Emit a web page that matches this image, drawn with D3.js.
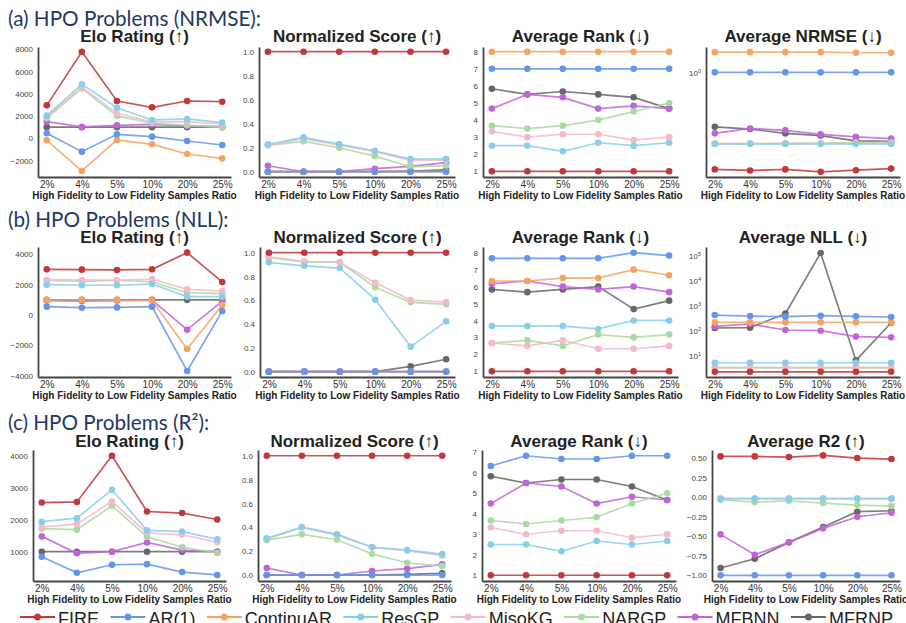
<!DOCTYPE html>
<html>
<head>
<meta charset="utf-8">
<script src="https://cdn.jsdelivr.net/npm/d3@7"></script>
<style>
  body { margin: 0; background: #fff; }
  svg { display: block; }
</style>
</head>
<body>
<div id="chart"></div>
<script>
const ratios = ["2%", "4%", "5%", "10%", "20%", "25%"];
const methods = ["FIRE", "AR(1)", "ContinuAR", "ResGP", "MisoKG", "NARGP", "MFBNN", "MFRNP"];

// one row per method, in the order of `methods`
const eloNrmse = [
  [2960, 7780, 3350, 2780, 3350, 3290],
  [450, -1200, 360, 150, -240, -600],
  [-180, -2930, -150, -540, -1410, -1800],
  [2040, 4850, 2750, 1650, 1740, 1410],
  [1890, 4580, 2250, 1470, 1500, 1290],
  [1800, 4490, 2010, 1350, 1170, 990],
  [1500, 1020, 1170, 1260, 1110, 1050],
  [1000, 1000, 1000, 1000, 1000, 1000]
];
const normNrmse = [
  [1, 1, 1, 1, 1, 1],
  [0, 0, 0, 0, 0, 0],
  [0, 0, 0, 0, 0, 0],
  [0.228, 0.286, 0.23, 0.175, 0.105, 0.108],
  [0.22, 0.275, 0.222, 0.168, 0.095, 0.098],
  [0.22, 0.253, 0.2, 0.13, 0.04, 0.05],
  [0.05, 0, 0, 0.025, 0.045, 0.075],
  [0, 0, 0, 0, 0.005, 0.015]
];
const rankNrmse = [
  [1, 1, 1, 1, 1, 1],
  [7, 7, 7, 7, 7, 7],
  [8, 8, 8, 8, 8, 8],
  [2.5, 2.5, 2.17, 2.67, 2.5, 2.67],
  [3.33, 3.0, 3.17, 3.17, 2.83, 3.0],
  [3.67, 3.5, 3.67, 4.0, 4.5, 5.0],
  [4.67, 5.5, 5.33, 4.67, 4.83, 4.67],
  [5.83, 5.5, 5.67, 5.5, 5.33, 4.67]
];
const avgNrmse = [
  [0.289, 0.285, 0.289, 0.28, 0.286, 0.292],
  [1.01, 1.01, 1.01, 1.01, 1.01, 1.01],
  [1.31, 1.31, 1.31, 1.31, 1.30, 1.30],
  [0.401, 0.401, 0.401, 0.401, 0.401, 0.401],
  [0.403, 0.403, 0.403, 0.403, 0.403, 0.403],
  [0.403, 0.403, 0.404, 0.406, 0.408, 0.41],
  [0.46, 0.49, 0.478, 0.454, 0.44, 0.43],
  [0.50, 0.486, 0.46, 0.447, 0.417, 0.415]
];

const eloNll = [
  [3010, 2990, 2970, 3010, 4110, 2180],
  [550, 480, 500, 550, -3690, 260],
  [990, 990, 990, 950, -2240, 660],
  [2000, 1960, 1960, 2040, 1210, 1210],
  [2310, 2310, 2290, 2370, 1690, 1580],
  [2290, 2220, 2290, 2180, 1470, 1410],
  [950, 920, 950, 990, -970, 920],
  [1000, 1000, 1000, 1000, 1000, 1000]
];
const normNll = [
  [1, 1, 1, 1, 1, 1],
  [0, 0, 0, 0, 0, 0],
  [0, 0, 0, 0, 0, 0],
  [0.919, 0.89, 0.871, 0.605, 0.21, 0.423],
  [0.966, 0.927, 0.92, 0.748, 0.602, 0.585],
  [0.96, 0.92, 0.92, 0.709, 0.583, 0.566],
  [0, 0, 0, 0, 0, 0],
  [0, 0, 0, 0, 0.045, 0.104]
];
const rankNll = [
  [1, 1, 1, 1, 1, 1],
  [7.67, 7.67, 7.67, 7.67, 8.0, 7.83],
  [6.33, 6.33, 6.5, 6.5, 7.0, 6.67],
  [3.67, 3.67, 3.67, 3.5, 4.0, 4.0],
  [2.67, 2.5, 2.83, 2.33, 2.33, 2.5],
  [2.67, 2.83, 2.5, 3.17, 3.0, 3.17],
  [6.17, 6.33, 6.0, 5.83, 6.0, 5.67],
  [5.83, 5.67, 5.83, 6.0, 4.67, 5.17]
];
const avgNll = [
  [2.4, 2.4, 2.4, 2.4, 2.4, 2.4],
  [432, 394, 371, 407, 383, 360],
  [221, 221, 221, 221, 221, 221],
  [5.5, 5.5, 5.5, 5.5, 5.5, 5.5],
  [3.5, 3.5, 3.5, 3.5, 3.5, 3.5],
  [3.5, 3.5, 3.5, 3.5, 3.5, 3.5],
  [153, 190, 110, 103, 60, 56],
  [132, 136, 489, 126000, 6.8, 214]
];

// ContinuAR has no R² results
const eloR2 = [
  [2540, 2560, 4010, 2260, 2210, 2010],
  [840, 340, 590, 610, 360, 270],
  null,
  [1940, 2050, 2940, 1670, 1630, 1390],
  [1770, 1870, 2570, 1590, 1530, 1300],
  [1720, 1690, 2440, 1470, 1140, 960],
  [1480, 950, 1000, 1290, 1050, 1000],
  [1000, 1000, 1000, 1000, 1000, 1000]
];
const normR2 = [
  [1, 1, 1, 1, 1, 1],
  [0, 0, 0, 0, 0, 0],
  null,
  [0.307, 0.402, 0.341, 0.235, 0.209, 0.176],
  [0.30, 0.40, 0.335, 0.232, 0.205, 0.162],
  [0.293, 0.341, 0.296, 0.176, 0.103, 0.075],
  [0.059, 0, 0, 0.034, 0.053, 0.089],
  [0, 0, 0, 0, 0.005, 0.015]
];
const rankR2 = [
  [1, 1, 1, 1, 1, 1],
  [6.33, 6.83, 6.67, 6.67, 6.83, 6.83],
  null,
  [2.5, 2.5, 2.17, 2.67, 2.5, 2.67],
  [3.33, 3.0, 3.17, 3.17, 2.83, 3.0],
  [3.67, 3.5, 3.67, 3.83, 4.5, 5.0],
  [4.5, 5.5, 5.33, 4.5, 4.83, 4.67],
  [5.83, 5.5, 5.67, 5.67, 5.33, 4.67]
];
const avgR2 = [
  [0.52, 0.52, 0.511, 0.533, 0.499, 0.486],
  [-1, -1, -1, -1, -1, -1],
  null,
  [-0.02, -0.02, -0.02, -0.02, -0.02, -0.02],
  [-0.02, -0.02, -0.02, -0.02, -0.02, -0.02],
  [-0.034, -0.064, -0.047, -0.077, -0.102, -0.115],
  [-0.477, -0.737, -0.579, -0.40, -0.251, -0.20],
  [-0.907, -0.788, -0.579, -0.383, -0.187, -0.175]
];

const colors = ["#c1373a", "#6495ed", "#f4a460", "#87ceeb", "#f4b8c8", "#a8dba0", "#c064d8", "#666666"];

const W = 906, H = 623;
const svg = d3.select("#chart").append("svg")
  .attr("width", W).attr("height", H);

const rows = [
  {label: "(a) HPO Problems (NRMSE):", top: 47, bottom: 177, labelY: 26, titleY: 42,
   cols: [[38, 231], [259, 455], [483, 678], [706, 900]]},
  {label: "(b) HPO Problems (NLL):", top: 247, bottom: 377, labelY: 227, titleY: 243,
   cols: [[38, 231], [260, 455], [483, 678], [706, 900]]},
  {label: "(c) HPO Problems (R²):", top: 450, bottom: 581, labelY: 430, titleY: 447,
   cols: [[33, 226], [258, 451], [482, 676], [712, 900]]}
];

const int = d3.format("d");
const one = d3.format(".1f");
const two = d3.format(".2f");

const panels = [
  {row: 0, col: 0, title: "Elo Rating (↑)", data: eloNrmse, domain: [-3477, 8203], ticks: d3.range(-2000, 8001, 2000), fmt: int},
  {row: 0, col: 1, title: "Normalized Score (↑)", data: normNrmse, domain: [-0.044, 1.039], ticks: d3.range(0, 1.01, 0.2), fmt: one},
  {row: 0, col: 2, title: "Average Rank (↓)", data: rankNrmse, domain: [0.667, 8.275], ticks: d3.range(1, 9), fmt: int},
  {row: 0, col: 3, title: "Average NRMSE (↓)", data: avgNrmse, domain: [0.262, 1.40], ticks: [1], log: true},
  {row: 1, col: 0, title: "Elo Rating (↑)", data: eloNll, domain: [-4087, 4483], ticks: d3.range(-4000, 4001, 2000), fmt: int},
  {row: 1, col: 1, title: "Normalized Score (↑)", data: normNll, domain: [-0.045, 1.048], ticks: d3.range(0, 1.01, 0.2), fmt: one},
  {row: 1, col: 2, title: "Average Rank (↓)", data: rankNll, domain: [0.664, 8.336], ticks: d3.range(1, 9), fmt: int},
  {row: 1, col: 3, title: "Average NLL (↓)", data: avgNll, domain: [1.49, 2.18e5], ticks: [10, 100, 1000, 1e4, 1e5], log: true},
  {row: 2, col: 0, title: "Elo Rating (↑)", data: eloR2, domain: [81, 4188], ticks: d3.range(1000, 4001, 1000), fmt: int},
  {row: 2, col: 1, title: "Normalized Score (↑)", data: normR2, domain: [-0.05, 1.048], ticks: d3.range(0, 1.01, 0.2), fmt: one},
  {row: 2, col: 2, title: "Average Rank (↓)", data: rankR2, domain: [0.72, 7.11], ticks: d3.range(1, 8), fmt: int},
  {row: 2, col: 3, title: "Average R2 (↑)", data: avgR2, domain: [-1.073, 0.602], ticks: d3.range(-1, 0.51, 0.25), fmt: two}
];

// section headings
rows.forEach(r => {
  svg.append("text")
    .attr("x", 8).attr("y", r.labelY)
    .style("font-family", "Lato, 'Open Sans', sans-serif")
    .style("font-size", "20.7px")
    .style("fill", "#1f3864")
    .text(r.label);
});

panels.forEach(p => {
  const r = rows[p.row];
  const [x0, x1] = r.cols[p.col];
  const g = svg.append("g");

  const x = d3.scalePoint().domain(ratios).range([x0, x1]).padding(0.25);
  const y = (p.log ? d3.scaleLog() : d3.scaleLinear()).domain(p.domain).range([r.bottom, r.top]);

  g.append("text")
    .attr("x", (x0 + x1) / 2).attr("y", r.titleY)
    .attr("text-anchor", "middle")
    .style("font-family", "'Liberation Sans', Arial, sans-serif")
    .style("font-weight", "bold")
    .style("font-size", "17px")
    .style("fill", "#222")
    .text(p.title);

  const yAxis = g.append("g")
    .attr("transform", `translate(${x0},0)`)
    .call(d3.axisLeft(y).tickValues(p.ticks).tickSize(0).tickSizeOuter(0).tickPadding(5)
      .tickFormat(p.log ? () => "" : p.fmt));

  if (p.log) {
    yAxis.selectAll(".tick text").each(function(d) {
      const t = d3.select(this);
      t.append("tspan").text("10");
      t.append("tspan").attr("dy", "-0.55em").style("font-size", "5.5px")
        .text(Math.round(Math.log10(d)));
    });
  }

  const xAxis = g.append("g")
    .attr("transform", `translate(0,${r.bottom})`)
    .call(d3.axisBottom(x).tickSize(0).tickSizeOuter(0).tickPadding(4));

  [yAxis, xAxis].forEach(a => {
    a.select(".domain").attr("stroke", "#444").attr("stroke-width", 1.8);
    a.selectAll(".tick text")
      .style("font-family", "'Liberation Sans', Arial, sans-serif")
      .style("fill", "#333");
  });
  yAxis.selectAll(".tick text").style("font-size", "8px").style("fill", "#444");
  xAxis.selectAll(".tick text").style("font-size", "10px");

  g.append("text")
    .attr("x", (x0 + x1) / 2).attr("y", r.bottom + 22)
    .attr("text-anchor", "middle")
    .style("font-family", "'Liberation Sans', Arial, sans-serif")
    .style("font-weight", "bold")
    .style("font-size", "10px")
    .style("fill", "#222")
    .text("High Fidelity to Low Fidelity Samples Ratio");

  const line = d3.line().x((d, i) => x(ratios[i])).y(d => y(d));

  // draw last method first so FIRE ends up on top
  d3.range(methods.length - 1, -1, -1).forEach(m => {
    const vals = p.data[m];
    if (!vals) return;
    g.append("path")
      .attr("d", line(vals))
      .attr("fill", "none")
      .attr("stroke", colors[m])
      .attr("stroke-width", 1.7)
      .attr("stroke-opacity", 0.85);
    g.selectAll(null)
      .data(vals)
      .join("circle")
        .attr("cx", (d, i) => x(ratios[i]))
        .attr("cy", d => y(d))
        .attr("r", 3.3)
        .attr("fill", colors[m]);
  });
});

// legend along the bottom edge
const legend = svg.append("g").attr("transform", "translate(20,617)");
let lx = 0;
methods.forEach((name, m) => {
  const item = legend.append("g").attr("transform", `translate(${lx},0)`);
  item.append("line")
    .attr("x1", 0).attr("x2", 35)
    .attr("stroke", colors[m]).attr("stroke-width", 2.2);
  item.append("circle").attr("cx", 17.5).attr("r", 3.5).attr("fill", colors[m]);
  const t = item.append("text")
    .attr("x", 38).attr("y", 8)
    .style("font-family", "'Liberation Sans', Arial, sans-serif")
    .style("font-size", "18px")
    .style("fill", "#222")
    .text(name);
  lx += 38 + t.node().getComputedTextLength() + 11.4;
});
</script>
</body>
</html>
